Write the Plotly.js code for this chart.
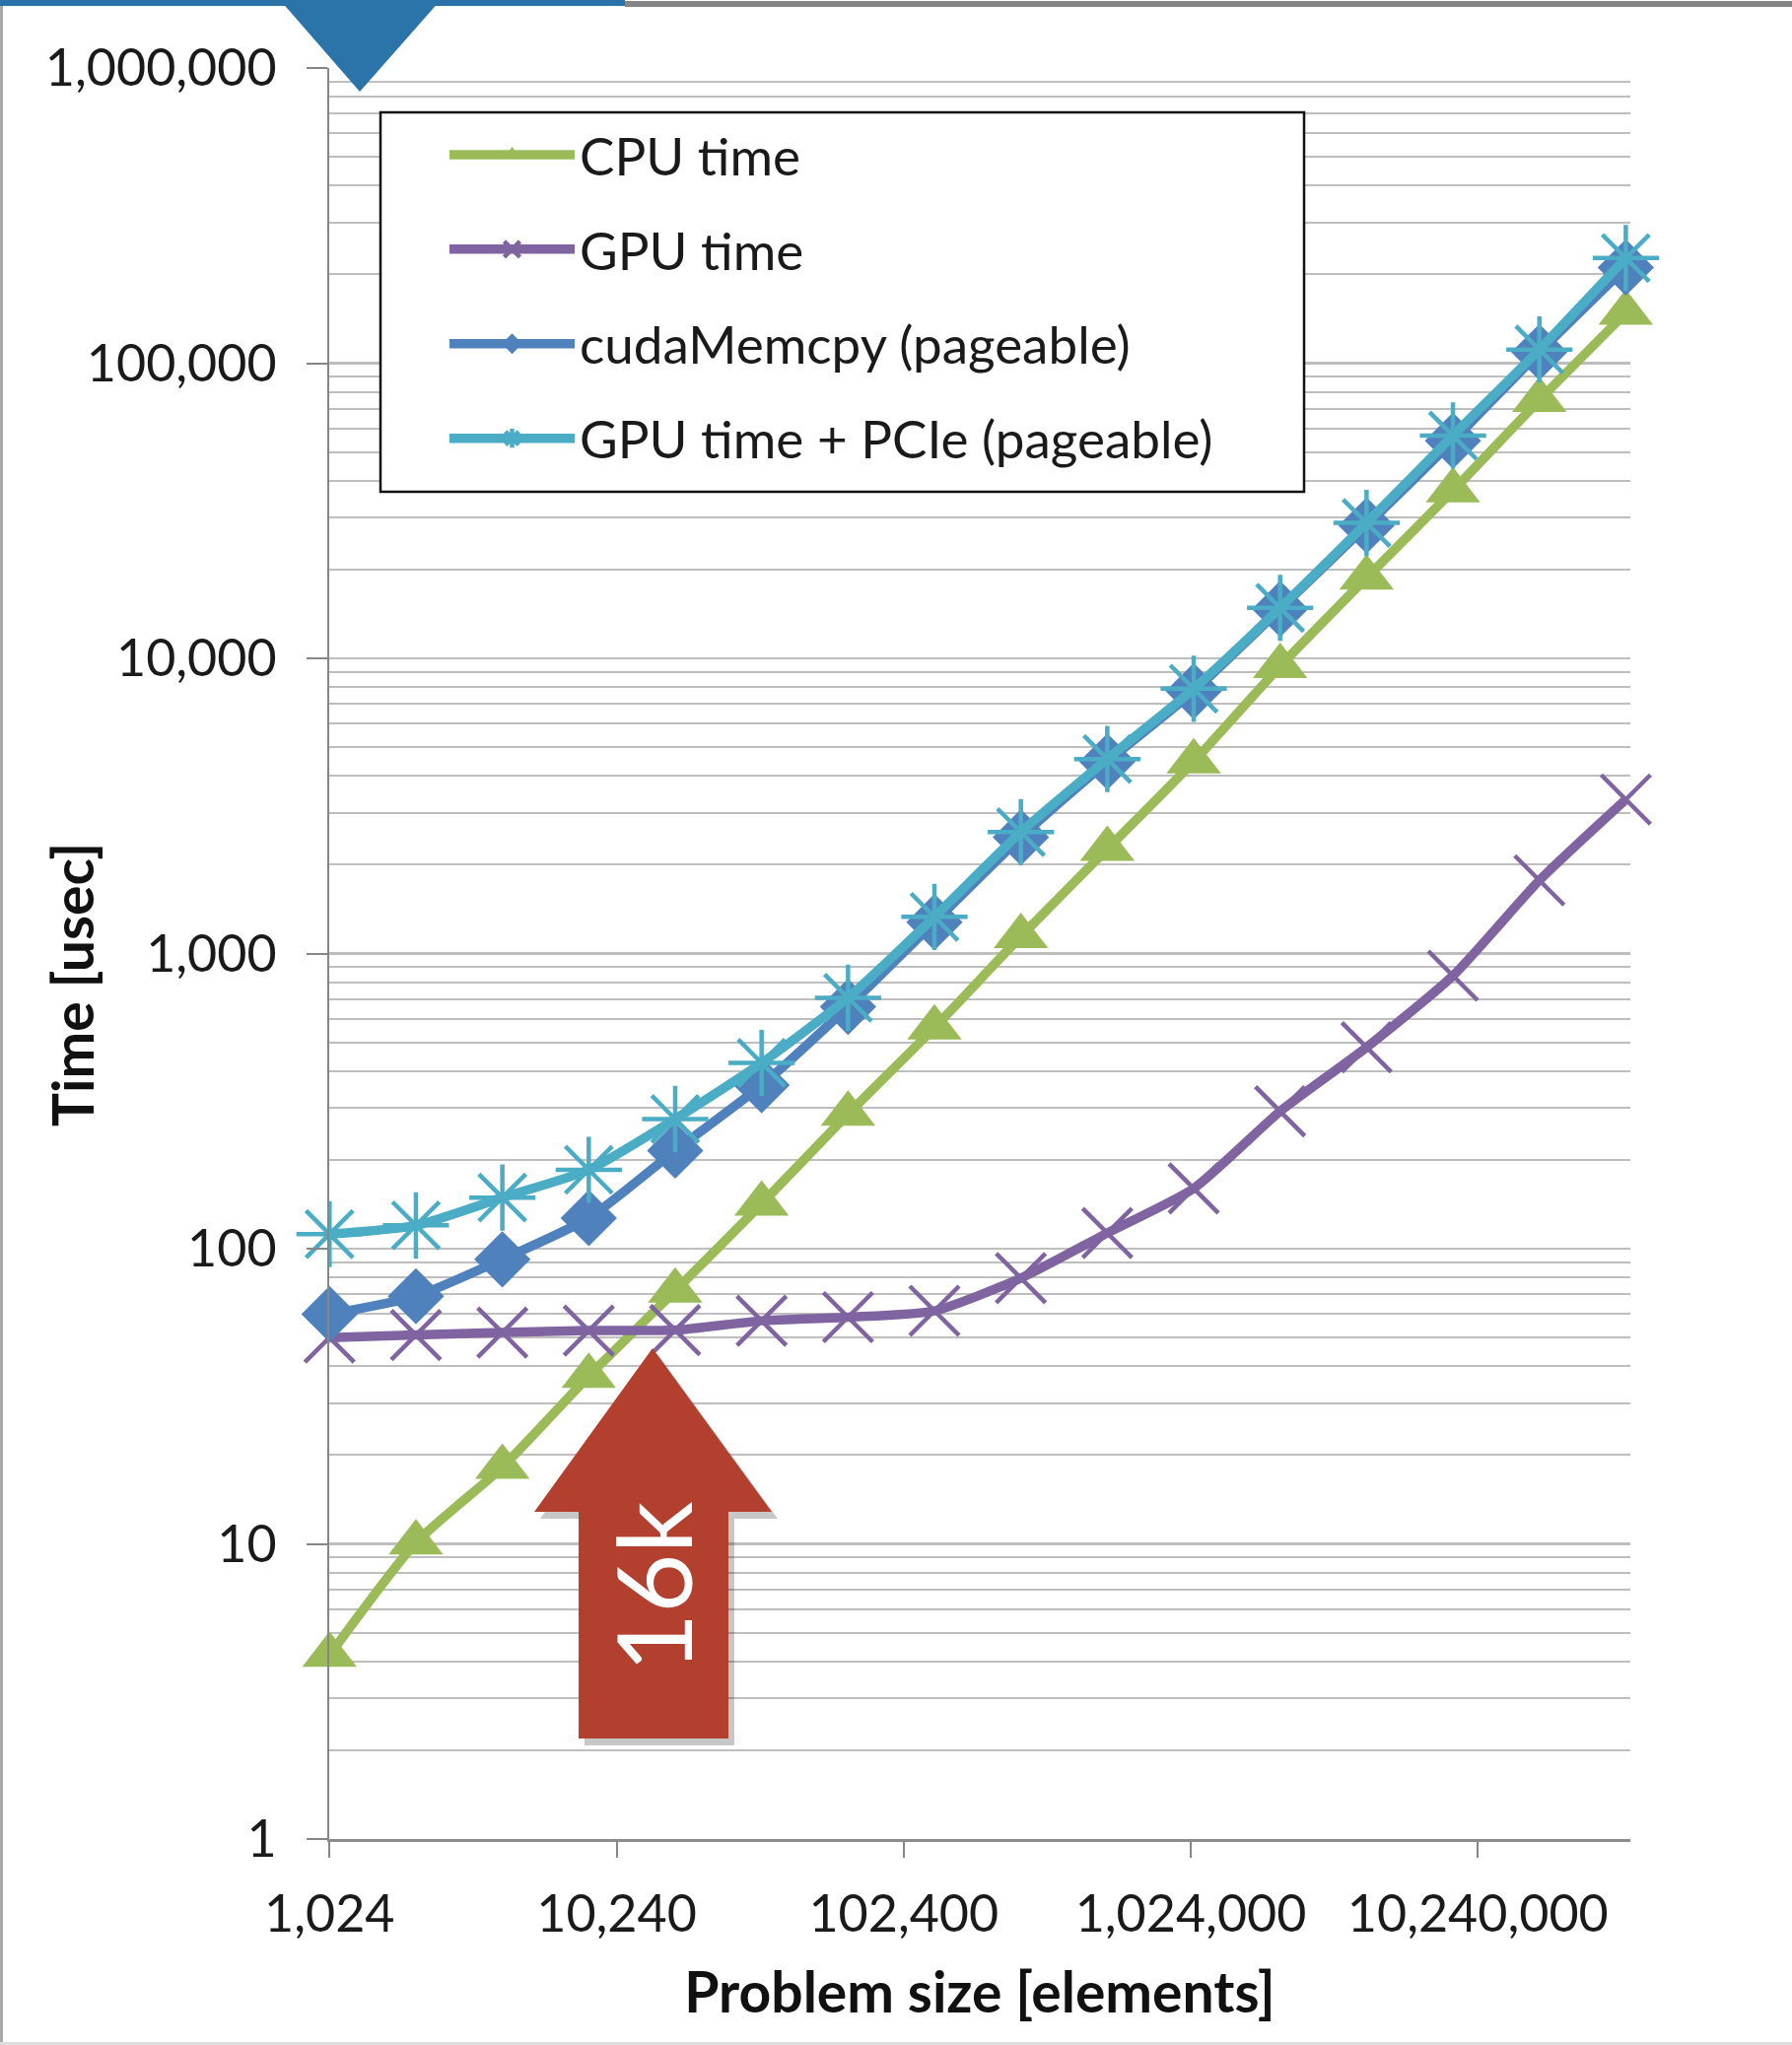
<!DOCTYPE html>
<html>
<head>
<meta charset="utf-8">
<script src="https://cdn.plot.ly/plotly-3.0.1.min.js"></script>
<style>
  html, body { margin: 0; padding: 0; background: #ffffff; }
  #chart { width: 1818px; height: 2075px; }
</style>
</head>
<body>
<div id="chart"></div>
<script>
// ---- data ----
const problemSize = [1024, 2048, 4096, 8192, 16384, 32768, 65536, 131072, 262144, 524288,
                     1048576, 2097152, 4194304, 8388608, 16777216, 33554432];
const cpuTime     = [4.2, 10.1, 18.2, 37, 72, 142, 286, 561, 1143, 2260, 4470, 9400, 18750, 37000, 75000, 148000];
const gpuTime     = [50, 51, 52, 52.8, 53, 57, 58.6, 61.6, 79.5, 113, 160, 292, 481, 841, 1770, 3325];
const memcpyTime  = [60, 69, 92, 127, 215, 358, 660, 1277, 2476, 4467, 7740, 14700, 28180, 54600, 109000, 211000];
const gpuPcieTime = [112, 120, 149, 185, 275, 426, 708, 1331, 2579, 4560, 7890, 14830, 28760, 56860, 111200, 227000];

const seriesNames = ['CPU time', 'GPU time', 'cudaMemcpy (pageable)', 'GPU time + PCIe (pageable)'];

const xTickVals = [1024, 10240, 102400, 1024000, 10240000];
const xTickText = ['1,024', '10,240', '102,400', '1,024,000', '10,240,000'];
const yTickVals = [1, 10, 100, 1000, 10000, 100000, 1000000];
const yTickText = ['1', '10', '100', '1,000', '10,000', '100,000', '1,000,000'];

const xAxisTitle = 'Problem size [elements]';
const yAxisTitle = 'Time [usec]';
const calloutText = '16k';

// ---- layout geometry ----
const W = 1818, H = 2075;
const M = { l: 334, r: 164, t: 69, b: 209 };
const PW = W - M.l - M.r, PH = H - M.t - M.b;
const px = x => (x - M.l) / PW;           // pixel -> paper
const py = y => (H - M.b - y) / PH;

const FONT = 'Lato, "Open Sans", "DejaVu Sans", sans-serif';
const colors = { cpu: '#9BBB59', gpu: '#8064A2', memcpy: '#4F81BD', pcie: '#4BACC6' };

function pathFrom(points) {
  return 'M' + points.map(p => px(p[0]).toFixed(5) + ',' + py(p[1]).toFixed(5)).join(' L') + ' Z';
}

const lineCommon = { shape: 'spline', smoothing: 0.6, width: 9.5 };

const traces = [
  { x: problemSize, y: cpuTime, name: seriesNames[0], type: 'scatter', mode: 'lines+markers',
    legendgroup: 'g1', cliponaxis: false,
    line: Object.assign({ color: colors.cpu }, lineCommon),
    marker: { symbol: 'triangle-up', size: 48, color: colors.cpu } },
  { x: problemSize, y: gpuTime, name: seriesNames[1], type: 'scatter', mode: 'lines+markers',
    legendgroup: 'g2', cliponaxis: false,
    line: Object.assign({ color: colors.gpu }, lineCommon),
    marker: { symbol: 'x-thin-open', size: 50, color: colors.gpu, line: { color: colors.gpu, width: 4.5 } } },
  { x: problemSize, y: memcpyTime, name: seriesNames[2], type: 'scatter', mode: 'lines+markers',
    legendgroup: 'g3', cliponaxis: false,
    line: Object.assign({ color: colors.memcpy }, lineCommon),
    marker: { symbol: 'diamond', size: 44, color: colors.memcpy } },
  { x: problemSize, y: gpuPcieTime, name: seriesNames[3], type: 'scatter', mode: 'lines+markers',
    legendgroup: 'g4', cliponaxis: false,
    line: Object.assign({ color: colors.pcie }, lineCommon),
    marker: { symbol: 'asterisk-open', size: 56, color: colors.pcie, line: { color: colors.pcie, width: 4.5 } } }
];

// decorative slide elements + callout arrow
const arrowPts = [[662, 1368], [783, 1534], [739, 1534], [739, 1764], [587, 1764], [587, 1534], [542, 1534]];
const shadowPts = arrowPts.map(p => [p[0] + 6, p[1] + 7]);

const shapes = [
  // slide frame
  { type: 'rect', xref: 'paper', yref: 'paper', x0: px(0), x1: px(3), y0: py(2075), y1: py(0),
    fillcolor: '#A9A9A9', line: { width: 0 }, layer: 'above' },
  { type: 'rect', xref: 'paper', yref: 'paper', x0: px(0), x1: px(1818), y0: py(2075), y1: py(2072),
    fillcolor: '#DDDDDD', line: { width: 0 }, layer: 'above' },
  { type: 'rect', xref: 'paper', yref: 'paper', x0: px(634), x1: px(1818), y0: py(7), y1: py(1),
    fillcolor: '#858585', line: { width: 0 }, layer: 'above' },
  { type: 'rect', xref: 'paper', yref: 'paper', x0: px(0), x1: px(634), y0: py(6), y1: py(0),
    fillcolor: '#2A72A8', line: { width: 0 }, layer: 'above' },
  { type: 'path', xref: 'paper', yref: 'paper',
    path: pathFrom([[284, 0], [447, 0], [365, 93]]),
    fillcolor: '#2B74AA', line: { width: 0 }, layer: 'above' },
  // legend frame (legend itself is drawn on top of it)
  { type: 'rect', xref: 'paper', yref: 'paper', x0: px(386), x1: px(1323), y0: py(499), y1: py(114),
    fillcolor: '#FFFFFF', line: { color: '#111111', width: 2.5 }, layer: 'above' },
  // arrow shadow and arrow
  { type: 'path', xref: 'paper', yref: 'paper', path: pathFrom(shadowPts),
    fillcolor: 'rgba(0,0,0,0.22)', line: { width: 0 }, layer: 'above' },
  { type: 'path', xref: 'paper', yref: 'paper', path: pathFrom(arrowPts),
    fillcolor: '#B3402F', line: { width: 0 }, layer: 'above' }
];

const annotations = [
  { text: calloutText, xref: 'paper', yref: 'paper', x: px(661), y: py(1610),
    xanchor: 'center', yanchor: 'middle', showarrow: false, textangle: -90,
    font: { family: FONT, size: 104, color: '#FFFFFF' } },
  { text: yAxisTitle, xref: 'paper', yref: 'paper', x: px(73), y: py(999),
    xanchor: 'center', yanchor: 'middle', showarrow: false, textangle: -90,
    font: { family: FONT, size: 57, weight: 'bold', color: '#111111' } }
];

const axisGray = '#868686';
const gridGray = '#BEBEBE';

const layout = {
  width: W, height: H,
  margin: M,
  paper_bgcolor: '#FFFFFF',
  plot_bgcolor: '#FFFFFF',
  font: { family: FONT, color: '#1A1A1A' },
  showlegend: true,
  legend: {
    x: px(386), y: py(116), xanchor: 'left', yanchor: 'top',
    bgcolor: 'rgba(0,0,0,0)', borderwidth: 0,
    font: { family: FONT, size: 53, color: '#1A1A1A' },
    traceorder: 'grouped', tracegroupgap: 24, itemwidth: 127, indentation: 65
  },
  xaxis: {
    type: 'log',
    range: [Math.log10(1024) - 0.001, Math.log10(34800000)],
    tickmode: 'array', tickvals: xTickVals, ticktext: xTickText,
    ticks: 'outside', ticklen: 16, tickwidth: 2, tickcolor: axisGray,
    showline: true, linecolor: '#8C8C8C', linewidth: 3,
    showgrid: false, zeroline: false,
    tickfont: { family: FONT, size: 52, color: '#1A1A1A' },
    ticklabelstandoff: 13,
    title: { text: xAxisTitle, standoff: 32,
             font: { family: FONT, size: 57, weight: 'bold', color: '#111111' } }
  },
  yaxis: {
    type: 'log',
    range: [0, 6],
    tickmode: 'array', tickvals: yTickVals, ticktext: yTickText,
    ticks: 'outside', ticklen: 21, tickwidth: 2, tickcolor: axisGray,
    showline: true, linecolor: axisGray, linewidth: 2,
    showgrid: true, gridcolor: gridGray, gridwidth: 2.5,
    minor: { dtick: 'D1', showgrid: true, gridcolor: gridGray, gridwidth: 2, ticks: '' },
    zeroline: false,
    tickfont: { family: FONT, size: 52, color: '#1A1A1A' },
    ticklabelstandoff: 20
  },
  shapes: shapes,
  annotations: annotations
};

Plotly.newPlot('chart', traces, layout, { displayModeBar: false, staticPlot: true });
</script>
</body>
</html>
